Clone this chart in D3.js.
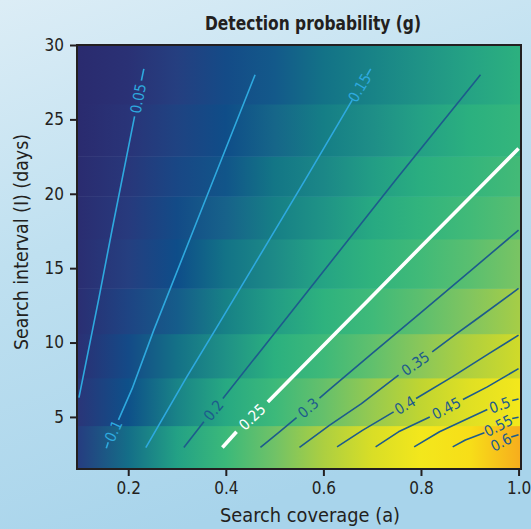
<!DOCTYPE html>
<html><head><meta charset="utf-8">
<script src="https://cdn.jsdelivr.net/npm/d3@7"></script>
<style>
html,body{margin:0;padding:0;}
body{width:531px;height:529px;overflow:hidden;}
text{font-family:"Liberation Sans Narrow","DejaVu Sans Condensed","Roboto Condensed","Liberation Sans",Arial,sans-serif;font-stretch:condensed;}
</style></head><body><svg id="chart" width="531" height="529"></svg>
<script>
// ---- data ----
const coverage = [0.1,0.2,0.3,0.4,0.5,0.6,0.7,0.8,0.9,1.0];
const intervalEdges = [1.5,4.38,7.59,10.56,13.61,16.93,19.80,22.49,26.0,30];
const intervalRows = [2.93,5.99,9.08,12.09,15.27,18.37,21.15,24.25,28.0];
const gI03 = [0.064,0.127,0.191,0.254,0.318,0.382,0.445,0.509,0.572,0.636];
const gI06 = [0.051,0.102,0.153,0.204,0.255,0.306,0.357,0.408,0.459,0.510];
const gI09 = [0.043,0.086,0.129,0.172,0.215,0.258,0.301,0.344,0.387,0.430];
const gI12 = [0.037,0.074,0.112,0.149,0.186,0.223,0.260,0.298,0.335,0.372];
const gI15 = [0.033,0.065,0.098,0.131,0.164,0.196,0.229,0.262,0.294,0.327];
const gI18 = [0.029,0.058,0.088,0.117,0.146,0.175,0.204,0.234,0.263,0.292];
const gI21 = [0.027,0.053,0.080,0.106,0.133,0.159,0.186,0.212,0.239,0.265];
const gI24 = [0.024,0.048,0.072,0.096,0.120,0.144,0.168,0.192,0.216,0.240];
const gI28 = [0.022,0.043,0.065,0.087,0.109,0.130,0.152,0.174,0.195,0.217];
const gGrid = [gI03,gI06,gI09,gI12,gI15,gI18,gI21,gI24,gI28];

const xTicks = [0.2,0.4,0.6,0.8,1.0];
const yTicks = [5,10,15,20,25,30];

const contourLevels = [0.05,0.1,0.15,0.2,0.25,0.3,0.35,0.4,0.45,0.5,0.55,0.6];
const contourLabels = ["0.05","0.1","0.15","0.2","0.25","0.3","0.35","0.4","0.45","0.5","0.55","0.6"];
const c005 = [[[0.099,6.3],[0.140,13.0],[0.167,17.6],[0.213,25.2]],[[0.227,27.6],[0.232,28.4]]];
const c010 = [[[0.155,2.9],[0.159,3.3]],[[0.180,4.8],[0.208,6.9],[0.252,10.8],[0.339,18.0],[0.460,28.0]]];
const c015 = [[[0.236,2.94],[0.320,7.69],[0.378,10.83],[0.489,16.9],[0.562,20.9],[0.659,26.3]],[[0.689,27.95],[0.697,28.4]]];
const c020 = [[[0.314,2.94],[0.355,4.67]],[[0.394,6.24],[0.467,9.27],[0.569,13.5],[0.748,20.92],[0.922,28.0]]];
const c025 = [[[0.393,2.94],[0.422,4.0]],[[0.486,6.01],[0.584,9.27],[0.631,10.83],[0.692,12.85],[0.800,16.44],[0.936,20.92],[1.0,23.05]]];
const c030 = [[[0.471,2.95],[0.510,4.0],[0.545,4.96]],[[0.592,6.26],[0.611,6.80],[0.700,9.27],[0.798,11.96],[0.908,15.0],[1.0,17.56]]];
const c035 = [[[0.551,2.95],[0.613,4.45],[0.678,5.90],[0.754,7.81]],[[0.823,9.38],[0.873,10.6],[0.911,11.5],[1.0,13.64]]];
const c040 = [[[0.628,2.99],[0.680,4.1],[0.744,5.34]],[[0.790,6.24],[0.864,7.69],[0.940,9.27],[1.0,10.5]]];
const c045 = [[[0.707,2.99],[0.754,4.0],[0.818,5.0]],[[0.886,6.17],[0.936,7.02],[1.0,8.25]]];
const c050 = [[[0.786,2.99],[0.838,4.0],[0.936,5.50]],[[0.987,6.1],[1.0,6.2]]];
const c055 = [[[0.865,2.99],[0.891,3.45],[0.930,3.93]],[[0.987,4.9],[1.0,4.98]]];
const c060 = [[[0.943,2.95]],[[0.985,3.65],[1.0,3.8]]];
const contourData = [c005,c010,c015,c020,c025,c030,c035,c040,c045,c050,c055,c060];

// ---- styles ----
const colorDomain = [0.020,0.045,0.065,0.085,0.100,0.115,0.135,0.165,0.190,0.215,0.250,0.290,0.330,0.370,0.410,0.450,0.500,0.550,0.590,0.620,0.640];
const colorRange = ["#2a2a6e","#2a3276","#253f80","#154a87","#0d4e89","#17608a","#127886","#1d8b87","#23a085","#2bb07f","#38b87b","#55be71","#7cc462","#a3cd48","#c2d530","#dcdf24","#f2e71c","#f6e51b","#f8d816","#f8c118","#f7ab1e"];
const lightLine = "#2ea9df", darkLine = "#1d5b8c", ink = "#231f20";
function lineColor(v){ return v===0.25 ? "#ffffff" : (v<0.2 ? lightLine : darkLine); }

const W = 531, H = 529;
const L = 77, R = 521, T = 45, B = 469;

const svg = d3.select("#chart");
const defs = svg.append("defs");

// background
const bg = defs.append("linearGradient").attr("id","bg").attr("x1",0).attr("y1",0).attr("x2",0.35).attr("y2",1);
bg.append("stop").attr("offset",0).attr("stop-color","#dcedf6");
bg.append("stop").attr("offset",0.45).attr("stop-color","#bfe0f0");
bg.append("stop").attr("offset",1).attr("stop-color","#a8d4eb");
svg.append("rect").attr("width",W).attr("height",H).attr("fill","url(#bg)");

const x = d3.scaleLinear().domain([0.095,1.005]).range([L,R]);
const y = d3.scaleLinear().domain([1.5,30]).range([B,T]);
const color = d3.scaleLinear().domain(colorDomain).range(colorRange).clamp(true);

defs.append("clipPath").attr("id","plotclip").append("rect")
  .attr("x",L).attr("y",T).attr("width",R-L).attr("height",B-T);

// heatmap bands
const x0 = x(coverage[0]), x1 = x(coverage[coverage.length-1]);
gGrid.forEach((row,i)=>{
  const gr = defs.append("linearGradient").attr("id","row"+i)
    .attr("gradientUnits","userSpaceOnUse").attr("x1",x0).attr("x2",x1).attr("y1",0).attr("y2",0);
  row.forEach((v,j)=>{
    gr.append("stop").attr("offset",(x(coverage[j])-x0)/(x1-x0)).attr("stop-color",color(v));
  });
});
const plot = svg.append("g").attr("clip-path","url(#plotclip)");
plot.selectAll("rect.band").data(intervalRows).join("rect").attr("class","band")
  .attr("x",x(0.095)).attr("width",x(1.005)-x(0.095))
  .attr("y",(d,i)=>y(intervalEdges[i+1])-(i<intervalRows.length-1?0.5:0))
  .attr("height",(d,i)=>y(intervalEdges[i])-y(intervalEdges[i+1])+(i<intervalRows.length-1?0.5:0))
  .attr("fill",(d,i)=>"url(#row"+i+")");

// contours
const line = d3.line().x(d=>x(d[0])).y(d=>y(d[1]));
contourData.forEach((segs,k)=>{
  const v = contourLevels[k];
  const col = lineColor(v);
  const w = v===0.25 ? 3.6 : 1.6;
  segs.forEach(s=>{
    if(s.length>1) plot.append("path").attr("d",line(s)).attr("fill","none")
      .attr("stroke",col).attr("stroke-width",w).attr("stroke-linejoin","round").attr("stroke-linecap","butt");
  });
  const p = segs[0][segs[0].length-1], q = segs[1][0];
  const px = x(p[0]), py = y(p[1]), qx = x(q[0]), qy = y(q[1]);
  const ang = Math.atan2(qy-py, qx-px)*180/Math.PI;
  plot.append("text").attr("transform",`translate(${(px+qx)/2},${(py+qy)/2}) rotate(${ang})`)
    .attr("text-anchor","middle").attr("dy","0.36em")
    .attr("font-size",15).attr("fill",col).text(contourLabels[k]);
});

// frame
svg.append("rect").attr("x",L).attr("y",T).attr("width",R-L).attr("height",B-T)
  .attr("fill","none").attr("stroke",ink).attr("stroke-width",2);

// axes
const xAxis = svg.append("g").attr("transform",`translate(0,${B})`)
  .call(d3.axisBottom(x).tickValues(xTicks).tickFormat(d3.format(".1f")).tickSize(7).tickPadding(6));
const yAxis = svg.append("g").attr("transform",`translate(${L},0)`)
  .call(d3.axisLeft(y).tickValues(yTicks).tickFormat(d3.format("d")).tickSize(7).tickPadding(6));
[xAxis,yAxis].forEach(a=>{
  a.select(".domain").remove();
  a.selectAll(".tick line").attr("stroke",ink).attr("stroke-width",2);
  a.selectAll(".tick text").attr("fill",ink).attr("font-size",17)
   .style("font-family",'"Liberation Sans Narrow","DejaVu Sans Condensed","Liberation Sans",Arial,sans-serif');
});

// titles
svg.append("text").attr("x",313).attr("y",30).attr("text-anchor","middle")
  .attr("font-size",19).attr("font-weight","bold").attr("fill",ink)
  .attr("textLength",216).attr("lengthAdjust","spacingAndGlyphs").text("Detection probability (g)");
svg.append("text").attr("x",310).attr("y",522).attr("text-anchor","middle")
  .attr("font-size",20).attr("fill",ink)
  .attr("textLength",180).attr("lengthAdjust","spacingAndGlyphs").text("Search coverage (a)");
svg.append("text").attr("transform","translate(28,242) rotate(-90)").attr("text-anchor","middle")
  .attr("font-size",20).attr("fill",ink)
  .attr("textLength",216).attr("lengthAdjust","spacingAndGlyphs").text("Search interval (I) (days)");
</script></body></html>
